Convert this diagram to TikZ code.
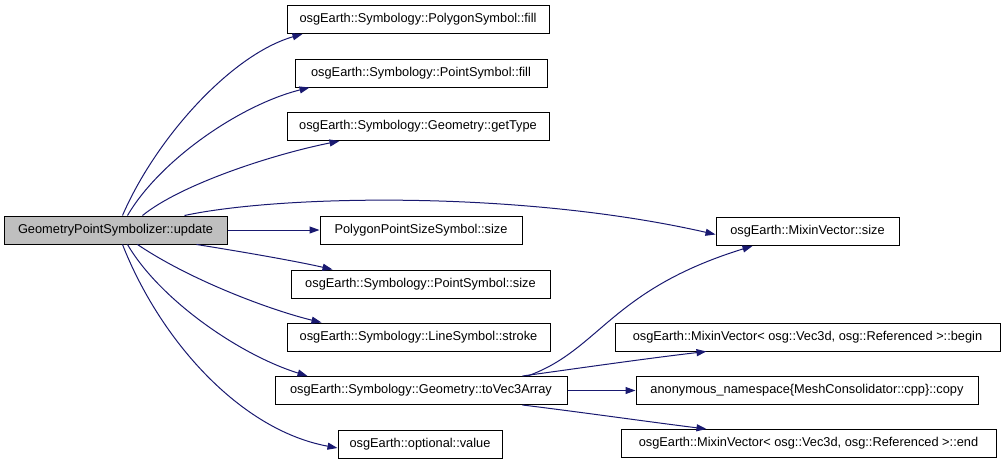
\documentclass[tikz,border=0pt]{standalone}
\usepackage{fontspec}
\setmainfont{Liberation Sans}
\usetikzlibrary{arrows.meta}
\definecolor{edgeblue}{HTML}{191970}
\definecolor{maingrey}{HTML}{BFBFBF}
\begin{document}
\begin{tikzpicture}[x=1pt,y=-1pt,
  box/.style={draw=black, line width=1pt, fill=white, inner sep=0pt, minimum height=28pt,
    font=\fontsize{12.8}{15}\selectfont},
  edge/.style={draw=edgeblue, line width=1pt, -{Triangle[length=10pt,width=7pt]}}]
\useasboundingbox (0,0) rectangle (1005,464);
% nodes
\node[box, fill=maingrey, minimum width=223pt] (main) at (115.5,230) {GeometryPointSymbolizer::update};
\node[box, minimum width=262pt] (pfill) at (418,19.5) {osgEarth::Symbology::PolygonSymbol::fill};
\node[box, minimum width=252pt] (ptfill) at (421,73) {osgEarth::Symbology::PointSymbol::fill};
\node[box, minimum width=262pt] (gettype) at (418,126.5) {osgEarth::Symbology::Geometry::getType};
\node[box, minimum width=202pt] (ppss) at (421,230) {PolygonPointSizeSymbol::size};
\node[box, minimum width=259pt] (ptsize) at (420.5,284) {osgEarth::Symbology::PointSymbol::size};
\node[box, minimum width=263pt] (stroke) at (418.5,337) {osgEarth::Symbology::LineSymbol::stroke};
\node[box, minimum width=292pt] (tovec) at (421,390.5) {osgEarth::Symbology::Geometry::toVec3Array};
\node[box, minimum width=164pt] (value) at (420,444) {osgEarth::optional::value};
\node[box, minimum width=183pt] (mvsize) at (807.5,231.5) {osgEarth::MixinVector::size};
\node[box, minimum width=385pt] (begin) at (807.5,337) {osgEarth::MixinVector< osg::Vec3d, osg::Referenced >::begin};
\node[box, minimum width=342pt] (copy) at (807,390.5) {anonymous\_namespace\{MeshConsolidator::cpp\}::copy};
\node[box, minimum width=375pt] (end) at (808.5,443.5) {osgEarth::MixinVector< osg::Vec3d, osg::Referenced >::end};
% edges from main
\draw[edge] ([xshift=119pt]main.north west) .. controls (155,140) and (230,55) .. ([xshift=16pt]pfill.south west);
\draw[edge] ([xshift=124pt]main.north west) .. controls (160,160) and (240,105) .. ([xshift=15pt]ptfill.south west);
\draw[edge] ([xshift=139pt]main.north west) .. controls (180,185) and (270,155) .. ([xshift=53pt]gettype.south west);
\draw[edge] ([xshift=181pt]main.north west) .. controls (280,195) and (520,190) .. ([yshift=-3pt]mvsize.west);
\draw[edge] (main.east) -- (ppss.west);
\draw[edge] ([xshift=193pt]main.south west) .. controls (250,253) and (300,262) .. ([xshift=42pt]ptsize.north west);
\draw[edge] ([xshift=134pt]main.south west) .. controls (190,280) and (270,310) .. ([xshift=35pt]stroke.north west);
\draw[edge] ([xshift=124pt]main.south west) .. controls (160,300) and (240,355) .. ([xshift=33pt]tovec.north west);
\draw[edge] ([xshift=119pt]main.south west) .. controls (160,340) and (240,430) .. ([yshift=-4pt]value.west);
% edges from toVec3Array
\draw[edge] ([xshift=253pt]tovec.north west) .. controls (600,350) and (610,290) .. ([xshift=37pt]mvsize.south west);
\draw[edge] ([xshift=248pt]tovec.north west) .. controls (580,368) and (650,358) .. ([xshift=92pt]begin.south west);
\draw[edge] (tovec.east) -- (copy.west);
\draw[edge] ([xshift=248pt]tovec.south west) .. controls (580,412) and (650,422) .. ([xshift=86pt]end.north west);
\end{tikzpicture}
\end{document}
